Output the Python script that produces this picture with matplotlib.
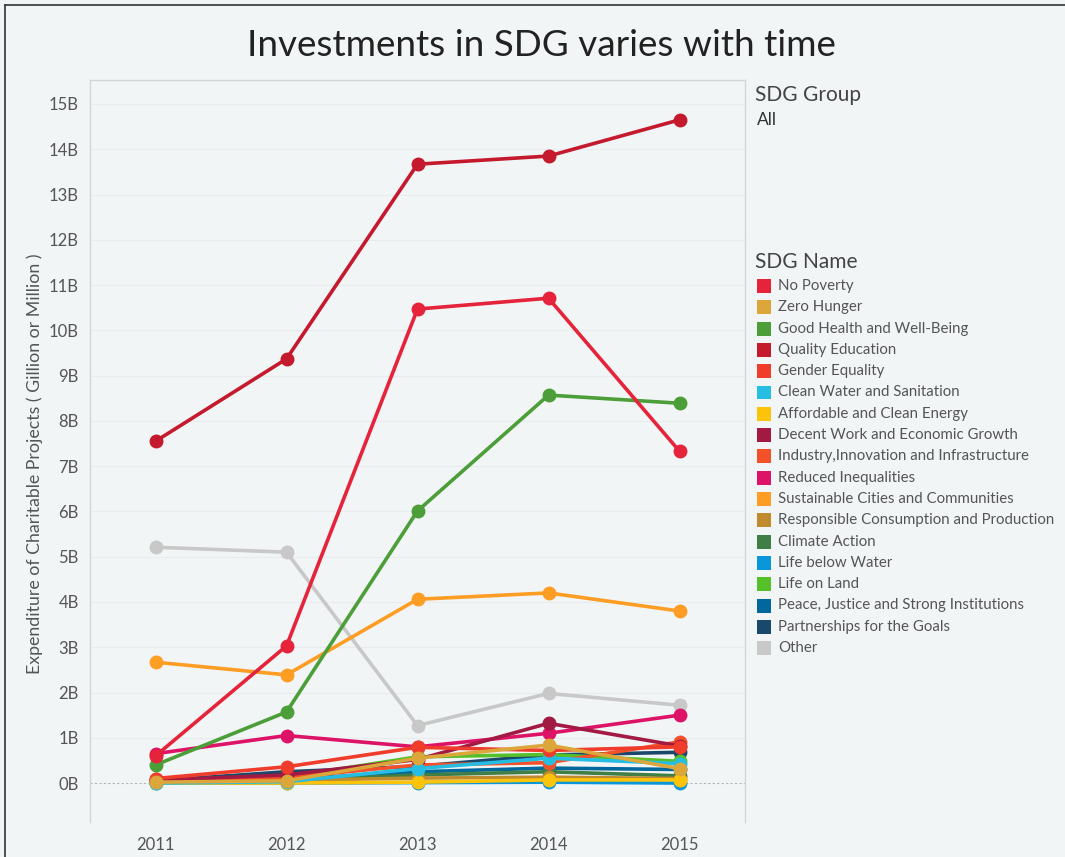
import numpy as np
import matplotlib.pyplot as plt
from matplotlib.patches import Rectangle
from matplotlib.lines import Line2D

years = [2011, 2012, 2013, 2014, 2015]

sdg_names = [
    'No Poverty', 'Zero Hunger', 'Good Health and Well-Being', 'Quality Education',
    'Gender Equality', 'Clean Water and Sanitation', 'Affordable and Clean Energy',
    'Decent Work and Economic Growth', 'Industry,Innovation and Infrastructure',
    'Reduced Inequalities', 'Sustainable Cities and Communities',
    'Responsible Consumption and Production', 'Climate Action', 'Life below Water',
    'Life on Land', 'Peace, Justice and Strong Institutions',
    'Partnerships for the Goals', 'Other',
]

sdg_colors = [
    '#e5243b', '#dda63a', '#4c9f38', '#c5192d', '#f03c2a', '#26bde2', '#fcc30b',
    '#a21942', '#f2512a', '#dd1367', '#fd9d24', '#bf8b2e', '#3f7e44', '#0a97d9',
    '#56c02b', '#00689d', '#19486a', '#c8c8c8',
]

# expenditure in billions, one list per SDG (same order as sdg_names)
no_poverty = [0.60, 3.03, 10.47, 10.71, 7.33]
zero_hunger = [0.02, 0.05, 0.55, 0.84, 0.32]
good_health = [0.40, 1.57, 6.01, 8.57, 8.39]
quality_education = [7.55, 9.37, 13.67, 13.85, 14.65]
gender_equality = [0.10, 0.36, 0.79, 0.72, 0.80]
clean_water = [0.00, 0.03, 0.32, 0.55, 0.43]
affordable_energy = [0.00, 0.00, 0.02, 0.07, 0.07]
decent_work = [0.06, 0.18, 0.52, 1.32, 0.82]
industry = [0.08, 0.12, 0.40, 0.45, 0.91]
reduced_inequalities = [0.65, 1.05, 0.80, 1.10, 1.50]
sustainable_cities = [2.67, 2.39, 4.06, 4.20, 3.80]
responsible_consumption = [0.03, 0.06, 0.11, 0.13, 0.10]
climate_action = [0.02, 0.05, 0.18, 0.25, 0.16]
life_below_water = [0.00, 0.00, 0.01, 0.02, 0.00]
life_on_land = [0.02, 0.13, 0.58, 0.63, 0.48]
peace_justice = [0.02, 0.08, 0.25, 0.33, 0.30]
partnerships = [0.05, 0.25, 0.37, 0.62, 0.68]
other = [5.21, 5.10, 1.27, 1.98, 1.72]

series = [
    no_poverty, zero_hunger, good_health, quality_education, gender_equality,
    clean_water, affordable_energy, decent_work, industry, reduced_inequalities,
    sustainable_cities, responsible_consumption, climate_action, life_below_water,
    life_on_land, peace_justice, partnerships, other,
]

y_ticks = list(range(0, 16))
y_tick_labels = ['%dB' % v for v in y_ticks]

bg = '#f2f5f6'
txt = '#555555'
font = 'Lato'

fig = plt.figure(figsize=(10.65, 8.57), dpi=100, facecolor=bg)
ax = fig.add_axes([90 / 1065, 1 - 822 / 857, 655 / 1065, 742 / 857])
ax.set_facecolor(bg)

n = len(series)
for i, (vals, col) in enumerate(zip(series, sdg_colors)):
    ax.plot(years, vals, color=col, lw=2.6, marker='o', ms=9,
            solid_capstyle='round', zorder=3 + (n - i) * 0.1)

ax.set_xlim(2010.5, 2015.5)
ax.set_ylim(-0.86, 15.53)
ax.set_xticks(years)
ax.set_xticklabels([str(y) for y in years], fontsize=12, color=txt, family=font)
ax.set_yticks(y_ticks)
ax.set_yticklabels(y_tick_labels, fontsize=12, color=txt, family=font)
ax.tick_params(length=0, pad=8)
ax.tick_params(axis='x', pad=11)
for v in y_ticks[1:]:
    ax.axhline(v, color='#e9ecee', lw=0.8, zorder=1)
ax.axhline(0, color='#b5b5b5', lw=0.8, ls=(0, (2, 2)), zorder=1)
for s in ['left', 'right', 'top']:
    ax.spines[s].set_color('#d4d4d4')
    ax.spines[s].set_linewidth(1)
ax.spines['bottom'].set_visible(False)

fig.text(35 / 1065, 1 - 464 / 857,
         'Expenditure of Charitable Projects ( Gillion or Million )',
         rotation=90, ha='center', va='center', fontsize=12.8, color=txt, family=font)

fig.text(541 / 1065, 1 - 45 / 857, 'Investments in SDG varies with time',
         ha='center', va='center', fontsize=26.6, color='#222222', family=font)

# filter / group card
fig.text(755 / 1065, 1 - 95 / 857, 'SDG Group', ha='left', va='center',
         fontsize=15, color='#444444', family=font)
fig.text(757 / 1065, 1 - 120 / 857, 'All', ha='left', va='center',
         fontsize=12.5, color='#333333', family=font)

# colour legend
fig.text(755 / 1065, 1 - 262 / 857, 'SDG Name', ha='left', va='center',
         fontsize=15, color='#444444', family=font)
for i, (name, col) in enumerate(zip(sdg_names, sdg_colors)):
    yc = 286 + i * 21.3
    fig.patches.append(Rectangle((757 / 1065, 1 - (yc + 7) / 857), 14 / 1065, 14 / 857,
                                 transform=fig.transFigure, facecolor=col,
                                 edgecolor='none'))
    fig.text(778 / 1065, 1 - yc / 857, name, ha='left', va='center',
             fontsize=10.85, color=txt, family=font)

# outer frame (left and top edges visible)
fig.add_artist(Line2D([5 / 1065, 5 / 1065], [0, 1 - 5 / 857], color='#333333', lw=1.2,
                      transform=fig.transFigure))
fig.add_artist(Line2D([5 / 1065, 1], [1 - 5 / 857, 1 - 5 / 857], color='#333333', lw=1.2,
                      transform=fig.transFigure))

fig.savefig('out.png', dpi=100, facecolor=bg)
